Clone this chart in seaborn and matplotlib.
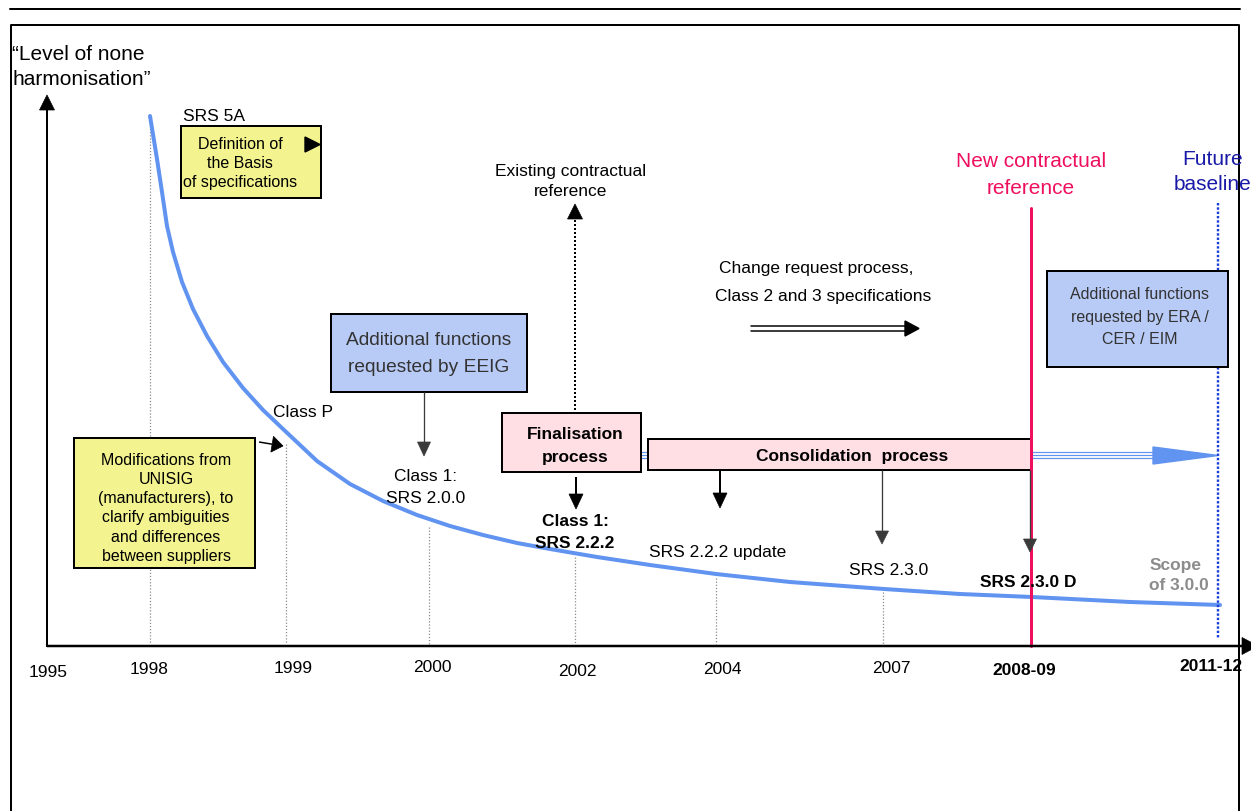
import numpy as np
import pandas as pd
import matplotlib
matplotlib.use("Agg")
import matplotlib.pyplot as plt
from matplotlib.patches import Rectangle, Polygon
import seaborn as sns

# ---------------- data ----------------
year_labels = ["1995", "1998", "1999", "2000", "2002", "2004", "2007", "2008-09", "2011-12"]
year_bold = [False, False, False, False, False, False, False, True, True]
# position of each milestone along the drawn time axis
year_pos = [48, 149, 293, 432, 577, 722, 891, 1024, 1211]
year_lab_y = [671, 668, 667, 666, 670, 668, 667, 669, 665]

# dotted milestone drop lines
drop_pos = [150, 286, 429, 575, 716, 883]
drop_top = [117, 445, 528, 558, 579, 593]

# "level of none harmonisation" curve
curve_t = [150, 157, 162, 167, 173, 182, 193, 207, 223, 243, 263, 283, 317, 350,
           383, 417, 450, 483, 517, 550, 597, 650, 716, 790, 884, 960, 1032, 1130, 1220]
curve_level = [117, 160, 193, 227, 253, 283, 310, 337, 363, 389, 411, 430, 462, 485,
               502, 516, 527, 536, 544, 550, 558, 566, 575, 583, 590, 595, 598, 603, 606]

# ---------------- style ----------------
sns.set_theme(style="white")
plt.rcParams['font.family'] = ['Liberation Sans', 'DejaVu Sans']

W, H = 1251, 812
fig = plt.figure(figsize=(W / 100, H / 100), dpi=100)
ax = fig.add_axes([0, 0, 1, 1])
ax.set_xlim(0, W)
ax.set_ylim(H, 0)
ax.axis('off')

PX = 0.72  # points per pixel


def txt(x, yc, s, size, color='black', weight='normal', ha='center', z=10):
    em = size / PX
    ax.text(x, yc + 0.358 * em, s, fontsize=size, color=color, fontweight=weight,
            ha=ha, va='baseline', zorder=z)


def arrow(x0, y0, x1, y1, color, lw_px, hl, hw, ls='-', z=6):
    d = np.hypot(x1 - x0, y1 - y0)
    ux, uy = (x1 - x0) / d, (y1 - y0) / d
    bx, by = x1 - ux * hl, y1 - uy * hl
    ax.plot([x0, bx], [y0, by], color=color, lw=lw_px * PX, ls=ls,
            solid_capstyle='butt', zorder=z)
    px, py = -uy, ux
    ax.add_patch(Polygon([(x1, y1), (bx + px * hw / 2, by + py * hw / 2),
                          (bx - px * hw / 2, by - py * hw / 2)], closed=True,
                         fc=color, ec=color, lw=0.5, zorder=z))


def box(x0, y0, x1, y1, fc, lw_px=2, z=4):
    ax.add_patch(Rectangle((x0, y0), x1 - x0, y1 - y0, fc=fc, ec='black',
                           lw=lw_px * PX, zorder=z))


# page rule and frame
ax.plot([10, 1240], [10, 10], color='black', lw=2 * PX, zorder=3)
ax.plot([11, 11, 1239, 1239], [H + 5, 26, 26, H + 5], color='black', lw=2 * PX, zorder=3)

# axes arrows
arrow(47, 648, 47, 96, 'black', 2, 15, 15)
arrow(47, 647, 1258, 647, 'black', 2.5, 16, 17)

# year labels
for lab, xp, yp, b in zip(year_labels, year_pos, year_lab_y, year_bold):
    txt(xp, yp, lab, 12.5, weight='bold' if b else 'normal')

# dotted drop lines
ax.vlines(drop_pos, drop_top, 645, colors='#8a8a8a', linestyles=(0, (1, 1.5)), lw=0.9, zorder=1)

# curve
df = pd.DataFrame({"t": curve_t, "level": curve_level})
sns.lineplot(data=df, x="t", y="level", ax=ax, color="#6193F0", lw=4 * PX,
             sort=False, estimator=None, zorder=2, solid_joinstyle='round')
ax.set_xlim(0, W)
ax.set_ylim(H, 0)
ax.axis('off')

# y label
txt(12, 53, "\u201cLevel of none", 15, ha='left')
txt(12, 78, "harmonisation\u201d", 15, ha='left')

# SRS 5A and definition box
txt(183, 115, "SRS 5A", 12.5, ha='left')
box(181, 127, 321, 199, '#F3F38F')
for yy, s in zip([143, 162, 181], ["Definition of", "the Basis", "of specifications"]):
    txt(240, yy, s, 11.5)
ax.add_patch(Polygon([(305, 138), (305, 153), (320, 145.5)], closed=True, fc='black', ec='black', zorder=6))

# UNISIG box
box(74, 439, 255, 569, '#F3F38F')
for yy, s in zip([459, 478, 497, 516, 536, 555],
                 ["Modifications from", "UNISIG", "(manufacturers), to",
                  "clarify ambiguities", "and differences", "between suppliers"]):
    txt(166, yy, s, 11.5)
arrow(259, 443, 283, 447, 'black', 1.5, 11, 16)

txt(273, 411, "Class P", 12.5, ha='left')

# EEIG box
box(331, 315, 527, 393, '#B8CAF6')
txt(429, 338, "Additional functions", 13.8, color='#333333')
txt(429, 365, "requested by EEIG", 13.8, color='#333333')
arrow(424, 393, 424, 457, '#3a3a3a', 1.3, 14, 13)
txt(426, 475, "Class 1:", 12.5)
txt(426, 497, "SRS 2.0.0", 12.5)

# Existing contractual reference
txt(571, 170, "Existing contractual", 12.5)
txt(571, 190, "reference", 12.5)
arrow(575, 415, 575, 205, 'black', 2, 15, 15, ls=(0, (1, 1)))

# blue triple-line arrow to future baseline
for dy in (-3, 0, 3):
    ax.plot([641, 1154], [456 + dy, 456 + dy], color='#6193F0', lw=1.2 * PX, zorder=3)
ax.add_patch(Polygon([(1218, 456.5), (1153, 448), (1153, 465)], closed=True,
                     fc='#6193F0', ec='#6193F0', zorder=3))

# Finalisation box
box(502, 414, 641, 473, '#FFDEE4')
txt(575, 433, "Finalisation", 12.5, weight='bold')
txt(575, 456, "process", 12.5, weight='bold')
arrow(576, 478, 576, 510, 'black', 2, 15, 14)
txt(575, 520, "Class 1:", 12.5, weight='bold')
txt(575, 542, "SRS 2.2.2", 12.5, weight='bold')

# Consolidation box
box(648, 440, 1032, 471, '#FFDEE4')
txt(852, 455, "Consolidation  process", 12.5, weight='bold')
arrow(720, 471, 720, 509, 'black', 2, 15, 14)
txt(718, 551, "SRS 2.2.2 update", 12.5)
arrow(882, 471, 882, 545, '#3a3a3a', 1.3, 13, 13)
txt(889, 569, "SRS 2.3.0", 12.5)

# new contractual reference
ax.plot([1031, 1031], [209, 647], color='#EF0F5F', lw=3 * PX, zorder=5)
txt(1031, 160, "New contractual", 15, color='#EF0F5F')
txt(1031, 187, "reference", 15, color='#EF0F5F')
arrow(1030, 471, 1030, 553, '#3a3a3a', 1.3, 13, 13, z=7)
txt(1028, 581, "SRS 2.3.0 D", 12.5, weight='bold')

# change request
txt(816, 267, "Change request process,", 12.5)
txt(823, 295, "Class 2 and 3 specifications", 12.5)
for yy in (327, 332):
    ax.plot([751, 906], [yy, yy], color='black', lw=1.5 * PX, zorder=5)
ax.add_patch(Polygon([(919, 329.5), (905, 322), (905, 337)], closed=True, fc='black', ec='black', zorder=5))

# future baseline
ax.plot([1218, 1218], [204, 640], color='#1A3FD9', lw=2.4 * PX, ls=(0, (1, 0.8)), zorder=3)
txt(1213, 158, "Future", 15, color='#1A1AA8')
txt(1213, 183, "baseline", 15, color='#1A1AA8')

# ERA box
box(1047, 272, 1228, 368, '#B8CAF6')
for yy, s in zip([293, 316, 338], ["Additional functions", "requested by ERA /", "CER / EIM"]):
    txt(1140, yy, s, 11.5, color='#333333')

# scope of 3.0.0
txt(1176, 564, "Scope", 12.5, color='#8C8C8C', weight='bold')
txt(1179, 584, "of 3.0.0", 12.5, color='#8C8C8C', weight='bold')

fig.savefig("out.png", dpi=100)
